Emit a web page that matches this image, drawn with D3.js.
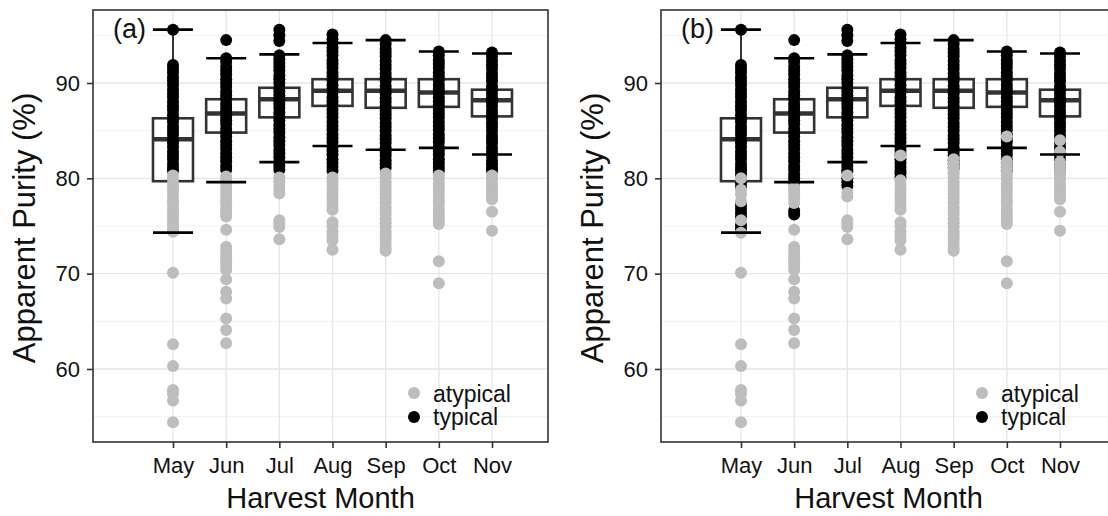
<!DOCTYPE html>
<html>
<head>
<meta charset="utf-8">
<script src="https://cdn.jsdelivr.net/npm/d3@7"></script>
<style>
  body { margin: 0; background: #fff; }
  text { font-family: "Liberation Sans", Arial, sans-serif; }
</style>
</head>
<body>
<div id="figure"></div>
<script>
// ---- data ----
const months = ["May", "Jun", "Jul", "Aug", "Sep", "Oct", "Nov"];
const yTicks = [60, 70, 80, 90];
const yMinorTicks = [55, 65, 75, 85, 95];
const panelLabels = ["(a)", "(b)"];
const legendLabels = ["atypical", "typical"];

// box statistics per month (lower whisker, Q1, median, Q3, upper whisker)
const whiskerLow = [74.3, 79.6, 81.7, 83.4, 83.0, 83.2, 82.5];
const boxQ1      = [79.7, 84.8, 86.4, 87.6, 87.4, 87.5, 86.5];
const boxMedian  = [84.1, 86.8, 88.3, 89.2, 89.2, 89.0, 88.2];
const boxQ3      = [86.3, 88.3, 89.5, 90.4, 90.4, 90.4, 89.3];
const whiskerHigh = [95.6, 92.6, 93.0, 94.2, 94.5, 93.3, 93.1];

// panel (a): typical samples per month
const typicalA = [
  [95.6, 91.9, 91.5, 91.1, 90.6, 90.2, 89.8, 89.3, 88.9, 88.5, 88.0, 87.6, 87.2, 86.7, 86.3, 85.9, 85.4, 85.0, 84.6, 84.1, 83.7, 83.3, 82.8, 82.4, 82.0, 81.5, 81.1, 80.8],
  [94.5, 92.6, 92.2, 91.7, 91.3, 90.9, 90.4, 90.0, 89.6, 89.1, 88.7, 88.3, 87.8, 87.4, 87.0, 86.5, 86.1, 85.7, 85.2, 84.8, 84.4, 83.9, 83.5, 83.1, 82.6, 82.2, 81.8, 81.3, 80.9],
  [95.6, 95.0, 94.4, 92.9, 92.5, 92.1, 91.7, 91.3, 90.8, 90.4, 90.0, 89.5, 89.1, 88.7, 88.2, 87.8, 87.4, 86.9, 86.5, 86.1, 85.6, 85.2, 84.8, 84.3, 83.9, 83.5, 83.0, 82.6, 82.2, 81.7, 81.3, 80.9],
  [95.1, 94.6, 94.2, 93.7, 93.3, 92.9, 92.4, 92.0, 91.6, 91.1, 90.7, 90.3, 89.8, 89.4, 89.0, 88.5, 88.1, 87.7, 87.2, 86.8, 86.4, 85.9, 85.5, 85.1, 84.6, 84.2, 83.8, 83.3, 82.9, 82.5, 82.0, 81.6, 81.2, 80.8],
  [94.5, 94.1, 93.6, 93.2, 92.8, 92.3, 91.9, 91.5, 91.0, 90.6, 90.2, 89.7, 89.3, 88.9, 88.4, 88.0, 87.6, 87.1, 86.7, 86.3, 85.8, 85.4, 85.0, 84.5, 84.1, 83.7, 83.2, 82.8, 82.4, 81.9, 81.5, 81.1],
  [93.3, 92.9, 92.4, 92.0, 91.6, 91.1, 90.7, 90.3, 89.8, 89.4, 89.0, 88.5, 88.1, 87.7, 87.2, 86.8, 86.4, 85.9, 85.5, 85.1, 84.6, 84.2, 83.8, 83.3, 82.9, 82.5, 82.0, 81.6, 81.2, 80.8],
  [93.2, 92.8, 92.3, 91.9, 91.5, 91.0, 90.6, 90.2, 89.7, 89.3, 88.9, 88.4, 88.0, 87.6, 87.1, 86.7, 86.3, 85.8, 85.4, 85.0, 84.5, 84.1, 83.7, 83.2, 82.8, 82.4, 81.9, 81.5, 81.1, 80.8]
];
// panel (a): atypical samples per month
const atypicalA = [
  [80.3, 79.9, 79.4, 79.0, 78.6, 78.1, 77.7, 77.3, 76.8, 76.4, 76.0, 75.5, 75.1, 74.7, 74.4, 70.1, 62.6, 60.3, 57.8, 57.4, 56.7, 54.4],
  [80.2, 79.8, 79.3, 78.9, 78.5, 78.0, 77.6, 77.2, 76.7, 76.3, 76.0, 74.6, 72.8, 72.4, 72.0, 71.6, 71.2, 70.8, 70.4, 69.4, 68.1, 67.4, 65.3, 64.1, 62.7],
  [80.1, 79.7, 79.2, 78.8, 78.4, 75.6, 75.3, 74.9, 73.6],
  [80.1, 79.7, 79.3, 78.8, 78.4, 78.0, 77.5, 77.1, 76.7, 75.4, 75.0, 74.4, 73.9, 73.5, 72.5],
  [80.5, 80.1, 79.6, 79.2, 78.8, 78.3, 77.9, 77.5, 77.0, 76.6, 76.2, 75.7, 75.3, 74.9, 74.4, 74.0, 73.6, 73.1, 72.7, 72.4],
  [80.3, 79.9, 79.4, 79.0, 78.6, 78.1, 77.7, 77.3, 76.8, 76.4, 76.0, 75.6, 75.2, 71.3, 69.0],
  [80.3, 79.9, 79.4, 79.0, 78.6, 78.2, 77.8, 76.5, 74.5]
];

// panel (b): samples that turn typical in (b) (on top of typicalA)
const typicalExtraB = [
  [80.4, 79.5, 79.1, 77.2, 76.8, 76.4, 76.0, 75.1, 74.7],
  [80.4, 80.0, 79.6, 76.6, 76.2],
  [80.7, 80.0, 79.6, 79.2],
  [80.5, 80.1],
  [],
  [],
  []
];
// panel (b): atypical samples per month
const atypicalB = [
  [80.0, 78.8, 78.3, 77.6, 75.6, 74.3, 70.1, 62.6, 60.3, 57.8, 57.4, 56.7, 54.4],
  [79.1, 78.7, 78.3, 77.9, 77.4, 74.6, 72.8, 72.4, 72.0, 71.6, 71.2, 70.8, 70.4, 69.4, 68.1, 67.4, 65.3, 64.1, 62.7],
  [80.3, 78.5, 78.1, 75.6, 75.3, 74.9, 73.6],
  [82.4, 79.8, 79.3, 78.8, 78.4, 78.0, 77.5, 77.1, 76.7, 75.4, 75.0, 74.4, 73.9, 73.5, 72.5],
  [82.0, 81.6, 81.2, 80.8, 80.5, 80.1, 79.6, 79.2, 78.8, 78.3, 77.9, 77.5, 77.0, 76.6, 76.2, 75.7, 75.3, 74.9, 74.4, 74.0, 73.6, 73.1, 72.7, 72.4],
  [84.4, 81.8, 81.4, 81.0, 80.6, 80.3, 79.9, 79.4, 79.0, 78.6, 78.1, 77.7, 77.3, 76.8, 76.4, 76.0, 75.6, 75.2, 71.3, 69.0],
  [84.0, 82.8, 81.7, 81.3, 80.9, 80.6, 80.3, 79.9, 79.4, 79.0, 78.6, 78.2, 77.8, 76.5, 74.5]
];
const typicalB = typicalA.map((vals, i) => vals.concat(typicalExtraB[i]));

// ---- layout ----
const plotW = 455, plotH = 432, plotTop = 10;
const panelLefts = [93, 661];
const boxW = 40, rPoint = 6;
const GREY = "#bdbdbd";

const svg = d3.select("#figure").append("svg")
  .attr("width", 1108)
  .attr("height", 516);
svg.append("rect").attr("width", "100%").attr("height", "100%").attr("fill", "white");

// y range from the data with a 5% expansion on each side
const allValues = typicalA.flat().concat(atypicalA.flat());
const [vMin, vMax] = d3.extent(allValues);
const pad = (vMax - vMin) * 0.05;
const y = d3.scaleLinear().domain([vMin - pad, vMax + pad]).range([plotH, 0]);
const x = d3.scalePoint().domain(months).range([80, 399]);

/* Turns per-month arrays into a flat list of {month, value} */
function aplatir(parMois) {
  let out = [];
  parMois.forEach((vals, i) => vals.forEach(v => out.push({ month: months[i], value: v })));
  return out;
}

/* Draws one panel at the given left offset */
function dessinerPanneau(left, label, typical, atypical) {
  const g = svg.append("g").attr("transform", `translate(${left},${plotTop})`);

  // grid
  g.selectAll(".minor").data(yMinorTicks).join("line")
    .attr("x1", 0).attr("x2", plotW)
    .attr("y1", d => y(d)).attr("y2", d => y(d))
    .attr("stroke", "#f2f2f2").attr("stroke-width", 1);
  g.selectAll(".majorY").data(yTicks).join("line")
    .attr("x1", 0).attr("x2", plotW)
    .attr("y1", d => y(d)).attr("y2", d => y(d))
    .attr("stroke", "#e6e6e6").attr("stroke-width", 1.3);
  g.selectAll(".majorX").data(months).join("line")
    .attr("x1", d => x(d)).attr("x2", d => x(d))
    .attr("y1", 0).attr("y2", plotH)
    .attr("stroke", "#e6e6e6").attr("stroke-width", 1.3);

  // whiskers and boxes
  months.forEach((m, i) => {
    const cx = x(m);
    g.append("line").attr("x1", cx).attr("x2", cx)
      .attr("y1", y(boxQ3[i])).attr("y2", y(whiskerHigh[i]))
      .attr("stroke", "#333").attr("stroke-width", 2);
    g.append("line").attr("x1", cx).attr("x2", cx)
      .attr("y1", y(boxQ1[i])).attr("y2", y(whiskerLow[i]))
      .attr("stroke", "#333").attr("stroke-width", 2);
    g.append("rect")
      .attr("x", cx - boxW / 2).attr("width", boxW)
      .attr("y", y(boxQ3[i])).attr("height", y(boxQ1[i]) - y(boxQ3[i]))
      .attr("fill", "white").attr("stroke", "#333").attr("stroke-width", 2.6);
    g.append("line").attr("x1", cx - boxW / 2).attr("x2", cx + boxW / 2)
      .attr("y1", y(boxMedian[i])).attr("y2", y(boxMedian[i]))
      .attr("stroke", "#333").attr("stroke-width", 4.5);
  });

  // points: typical first, atypical on top
  g.selectAll(".typ").data(aplatir(typical)).join("circle")
    .attr("cx", d => x(d.month)).attr("cy", d => y(d.value))
    .attr("r", rPoint).attr("fill", "black");
  g.selectAll(".atyp").data(aplatir(atypical)).join("circle")
    .attr("cx", d => x(d.month)).attr("cy", d => y(d.value))
    .attr("r", rPoint).attr("fill", GREY);

  // whisker caps
  months.forEach((m, i) => {
    const cx = x(m);
    [whiskerLow[i], whiskerHigh[i]].forEach(v => {
      g.append("line").attr("x1", cx - boxW / 2).attr("x2", cx + boxW / 2)
        .attr("y1", y(v)).attr("y2", y(v))
        .attr("stroke", "black").attr("stroke-width", 2.6);
    });
  });

  // border
  g.append("rect").attr("width", plotW).attr("height", plotH)
    .attr("fill", "none").attr("stroke", "#333").attr("stroke-width", 1.6);

  // axes
  const ay = g.append("g").call(d3.axisLeft(y).tickValues(yTicks).tickSize(6).tickPadding(7));
  const ax = g.append("g").attr("transform", `translate(0,${plotH})`)
    .call(d3.axisBottom(x).tickSize(6).tickPadding(9));
  [ax, ay].forEach(a => {
    a.select(".domain").remove();
    a.selectAll(".tick line").attr("stroke", "#333").attr("stroke-width", 1.6);
    a.selectAll(".tick text").attr("fill", "#111").style("font-size", "22px")
      .style("font-family", "'Liberation Sans', Arial, sans-serif");
  });

  // titles
  g.append("text").attr("x", plotW / 2).attr("y", 498)
    .attr("text-anchor", "middle").style("font-size", "29px").attr("fill", "#111")
    .text("Harvest Month");
  g.append("text").attr("transform", `translate(-58,${plotH / 2 + 2}) rotate(-90)`)
    .attr("text-anchor", "middle").style("font-size", "31px").attr("fill", "#111")
    .text("Apparent Purity (%)");

  // panel label
  g.append("text").attr("x", 20).attr("y", 28)
    .style("font-size", "27px").attr("fill", "#111").text(label);

  // legend
  const couleurs = [GREY, "black"];
  legendLabels.forEach((lab, k) => {
    g.append("circle").attr("cx", 321).attr("cy", 383 + k * 24)
      .attr("r", rPoint).attr("fill", couleurs[k]);
    g.append("text").attr("x", 340).attr("y", 391.5 + k * 23.5)
      .style("font-size", "23px").attr("fill", "#111").text(lab);
  });
}

dessinerPanneau(panelLefts[0], panelLabels[0], typicalA, atypicalA);
dessinerPanneau(panelLefts[1], panelLabels[1], typicalB, atypicalB);
</script>
</body>
</html>
